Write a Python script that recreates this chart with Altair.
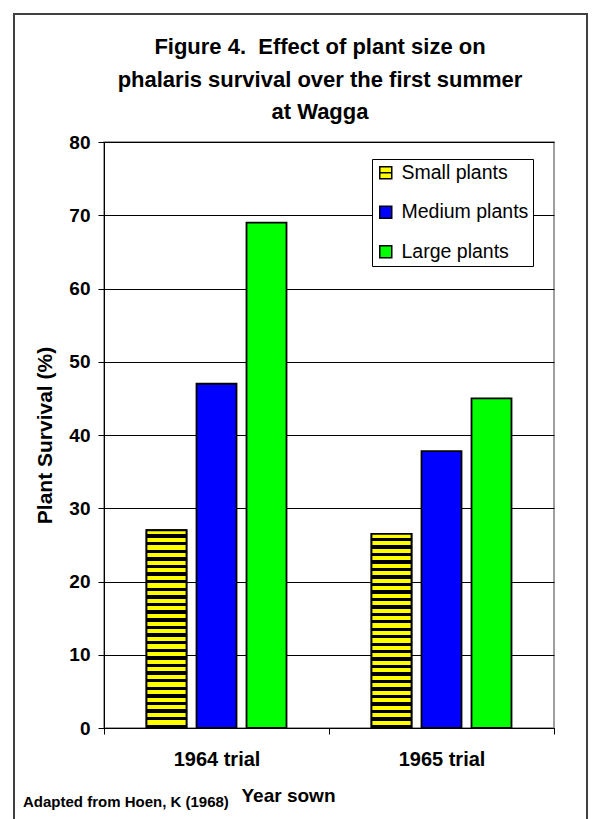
import altair as alt
import pandas as pd

# Survival (%) of phalaris plants by size class, for each sowing year
years = ["1964 trial", "1965 trial"]
sizes = ["Small plants", "Medium plants", "Large plants"]
small = [27.0, 26.5]
medium = [47.0, 37.8]
large = [69.0, 45.0]

colors = ["#ffff00", "#0000ff", "#00ff00"]
small_path = "M-1,-1H1V1H-1Z M-1,0H1"
shapes = [small_path, "square", "square"]

rows = []
for i, yr in enumerate(years):
    for sz, vals in zip(sizes, [small, medium, large]):
        rows.append({"year": yr, "size": sz, "value": vals[i]})
df = pd.DataFrame(rows)

FONT = "Liberation Sans"

# horizontal yellow/black stripes for the small-plant bars (hard-stop gradient)
n_stripes = 26
stops = []
for i in range(n_stripes):
    a = i / n_stripes
    b = (i + 0.55) / n_stripes
    c = (i + 1) / n_stripes
    stops += [
        {"offset": a, "color": "#ffff00"},
        {"offset": b, "color": "#ffff00"},
        {"offset": b, "color": "#000000"},
        {"offset": c, "color": "#000000"},
    ]
stripes = alt.Gradient(gradient="linear", x1=0, y1=0, x2=0, y2=1, stops=stops)

x_enc = alt.X(
    "year:N",
    sort=years,
    scale=alt.Scale(paddingInner=0, paddingOuter=0),
    axis=alt.Axis(
        title="Year sown",
        labelAngle=0,
        labelFont=FONT,
        labelFontSize=20,
        labelFontWeight="bold",
        labelColor="#000",
        labelPadding=15,
        tickBand="extent",
        tickSize=6,
        tickColor="#000",
        domainColor="#000",
        titleFont=FONT,
        titleFontSize=19,
        titleFontWeight="bold",
        titleColor="#000",
        titleX=184,
        titleY=67,
        titleBaseline="middle",
        grid=False,
    ),
)
xo_enc = alt.XOffset(
    "size:N",
    sort=sizes,
    scale=alt.Scale(domain=sizes, paddingInner=0.2, paddingOuter=0.85),
)
y_axis = alt.Axis(
    title="Plant Survival (%)",
    values=list(range(0, 81, 10)),
    labelFont=FONT,
    labelFontSize=19,
    labelFontWeight="bold",
    labelColor="#000",
    labelPadding=8,
    tickSize=6,
    tickColor="#000",
    domainColor="#000",
    gridColor="#000",
    gridWidth=1,
    titleFont=FONT,
    titleFontSize=21,
    titleFontWeight="bold",
    titleColor="#000",
    titlePadding=13,
)
y_scale = alt.Scale(domain=[0, 80], nice=False)
y_enc = alt.Y("value:Q", scale=y_scale, axis=y_axis)

legend = alt.Legend(
    title=None,
    orient="none",
    legendX=268,
    legendY=17,
    fillColor="#ffffff",
    strokeColor="#000",
    padding=4,
    labelFont=FONT,
    labelFontSize=19.5,
    labelColor="#000",
    labelOffset=6,
    rowPadding=18.5,
    symbolSize=144,
    symbolStrokeWidth=1.5,
    symbolOpacity=1,
)
fill_scale = alt.Scale(domain=sizes, range=colors)
outline_scale = alt.Scale(domain=sizes, range=["#000000"] * 3)

# key markers sit at mid-height of each bar, fully covered by the bars drawn over them
keys = (
    alt.Chart(df)
    .transform_calculate(mid="datum.value / 2")
    .mark_point(filled=True, size=36, opacity=1, strokeWidth=1.5)
    .encode(
        x=x_enc,
        xOffset=xo_enc,
        y=alt.Y("mid:Q", scale=y_scale, axis=y_axis),
        fill=alt.Fill("size:N", sort=sizes, scale=fill_scale, legend=legend),
        stroke=alt.Stroke("size:N", sort=sizes, scale=outline_scale, legend=legend),
        shape=alt.Shape(
            "size:N",
            sort=sizes,
            scale=alt.Scale(domain=sizes, range=shapes),
            legend=legend,
        ),
    )
)

bars = alt.Chart(df).mark_bar(stroke="#000", strokeWidth=1.8).encode(
    x=x_enc,
    xOffset=xo_enc,
    y=y_enc,
    fill=alt.Fill("size:N", sort=sizes, scale=fill_scale, legend=None),
)

striped = (
    alt.Chart(df)
    .transform_filter(alt.datum.size == "Small plants")
    .mark_bar(fill=stripes, stroke="#000", strokeWidth=1.8)
    .encode(x=x_enc, xOffset=xo_enc, y=y_enc)
)

caption = (
    alt.Chart(alt.Data(values=[{"t": "Adapted from Hoen, K (1968)"}]))
    .mark_text(
        font=FONT,
        fontSize=15,
        fontWeight="bold",
        color="#000",
        align="left",
        baseline="middle",
    )
    .encode(x=alt.value(-81), y=alt.value(660), text="t:N")
)

frame = (
    alt.Chart(alt.Data(values=[{}]))
    .mark_rect(fill=None, stroke="#404040", strokeWidth=2)
    .encode(
        x=alt.value(-90),
        x2=alt.value(483),
        y=alt.value(-128),
        y2=alt.value(700),
    )
)

chart = (
    alt.layer(frame, keys, bars, striped, caption)
    .properties(
        width=450,
        height=586,
        title=alt.TitleParams(
            text=[
                "Figure 4.\u00a0 Effect of plant size on",
                "phalaris survival over the first summer",
                "at Wagga",
            ],
            font=FONT,
            fontSize=22,
            fontWeight="bold",
            color="#000",
            anchor="middle",
            lineHeight=32.5,
            dx=-9,
            offset=-111,
        ),
        autosize=alt.AutoSizeParams(type="none"),
        padding={"left": 104, "top": 142, "right": 47, "bottom": 91},
        background="#ffffff",
    )
    .configure_view(stroke="#808080", strokeWidth=1.5)
)

chart.save("out.html", embed_options={"renderer": "svg", "actions": False})
